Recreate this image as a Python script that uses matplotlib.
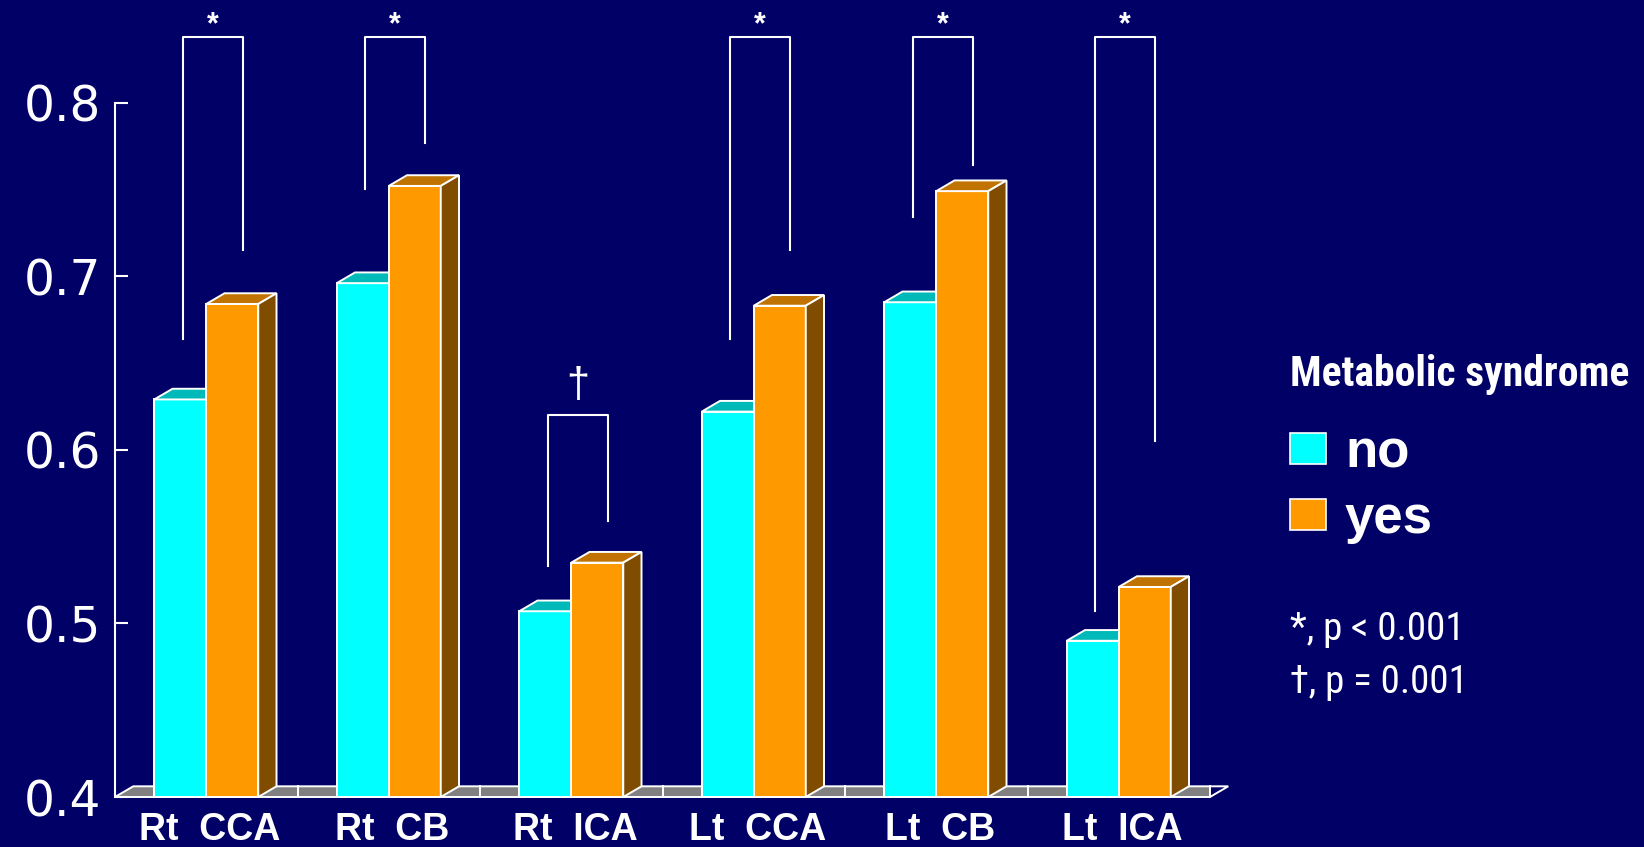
import matplotlib
matplotlib.use('Agg')
import matplotlib.pyplot as plt
from matplotlib.patches import Polygon, Rectangle

# mean values per site, by metabolic syndrome status
sites = ['Rt  CCA', 'Rt  CB', 'Rt  ICA', 'Lt  CCA', 'Lt  CB', 'Lt  ICA']
no_vals = [0.629, 0.696, 0.507, 0.622, 0.685, 0.490]
yes_vals = [0.684, 0.752, 0.535, 0.683, 0.749, 0.521]

# significance brackets: mark, top, bottom of left leg, bottom of right leg
marks = ['*', '*', '\u2020', '*', '*', '*']
br_top = [0.838, 0.838, 0.620, 0.838, 0.838, 0.838]
br_left = [0.664, 0.750, 0.533, 0.664, 0.734, 0.507]
br_right = [0.715, 0.777, 0.559, 0.715, 0.764, 0.605]

yticks = [0.4, 0.5, 0.6, 0.7, 0.8]

W, H = 1644, 847
BG = '#000066'
CYAN, CYAN_TOP = '#00FFFF', '#00B9B9'
ORANGE, ORANGE_TOP, ORANGE_SIDE = '#FF9900', '#C07300', '#7F4C00'
base = 0.4
bw = 0.285          # bar width in category units
off = 0.215         # gap before first bar
ddx, ddy = 0.100, 0.00616   # depth offset of the 3d look

fig = plt.figure(figsize=(W / 100, H / 100), dpi=100, facecolor=BG)
ax = fig.add_axes([115 / W, 0, 1095 / W, 1])
ax.set_facecolor('none')
ax.set_xlim(0, 6)
ax.set_ylim(base - 50 / 1736, base + 797 / 1736)

for s in ['top', 'right', 'bottom']:
    ax.spines[s].set_visible(False)
ax.spines['left'].set_color('white')
ax.spines['left'].set_linewidth(1.5)
ax.spines['left'].set_bounds(0.4, 0.8)
ax.set_xticks([])
ax.set_yticks(yticks)
ax.set_yticklabels(['%.1f' % v for v in yticks], fontsize=35, color='white',
                   family='DejaVu Sans')
ax.tick_params(axis='y', direction='in', length=9.4, width=1.5, color='white', pad=10)

def box(x0, v, front, top, side=None, z=2):
    kw = dict(edgecolor='white', linewidth=1.4, zorder=z, clip_on=False)
    ax.add_patch(Rectangle((x0, base), bw, v - base, facecolor=front, **kw))
    ax.add_patch(Polygon([(x0, v), (x0 + bw, v), (x0 + bw + ddx, v + ddy),
                          (x0 + ddx, v + ddy)], facecolor=top, **kw))
    if side:
        ax.add_patch(Polygon([(x0 + bw, base), (x0 + bw, v), (x0 + bw + ddx, v + ddy),
                              (x0 + bw + ddx, base + ddy)], facecolor=side, **kw))

# floor
ax.add_patch(Polygon([(0, base), (6, base), (6, base + ddy), (ddx, base + ddy)],
                     facecolor='#808080', edgecolor='none', zorder=1, clip_on=False))
ax.add_patch(Polygon([(0, base), (6, base), (6 + ddx, base + ddy), (ddx, base + ddy)],
                     closed=True, fill=False, edgecolor='white', linewidth=1.4,
                     zorder=1, clip_on=False))
for i in range(1, 7):
    ax.plot([i, i], [base, base + ddy], color='white', lw=1.4, zorder=1, clip_on=False)

for i in range(6):
    box(i + off, no_vals[i], CYAN, CYAN_TOP, z=2)
    box(i + off + bw, yes_vals[i], ORANGE, ORANGE_TOP, ORANGE_SIDE, z=3)
    ax.text(i + 0.52, base - 43 / 1736, sites[i], ha='center', va='baseline',
            fontsize=27, fontweight='bold', color='white', family='Liberation Sans')

    # bracket
    xl, xr = i + 0.37, i + 0.70
    ax.plot([xl, xl, xr, xr], [br_left[i], br_top[i], br_top[i], br_right[i]],
            color='white', lw=1.5, zorder=5, clip_on=False)
    if marks[i] == '*':
        ax.text((xl + xr) / 2, br_top[i] + 3 / 1736, '*', ha='center', va='baseline',
                fontsize=22, fontweight='bold', color='white', family='Liberation Sans')
    else:
        ax.text((xl + xr) / 2, br_top[i] + 18 / 1736, marks[i], ha='center', va='baseline',
                fontsize=30, color='white', family='Liberation Sans')

# legend
def fx(x):
    return x / W

def fy(y):
    return 1 - y / H

narrow = ['Roboto Condensed', 'Liberation Sans']
fig.text(fx(1290), fy(386), 'Metabolic syndrome', fontsize=30, fontweight='bold',
         color='white', family=narrow, va='baseline')
for y0, c, lab in [(433, CYAN, 'no'), (499, ORANGE, 'yes')]:
    fig.patches.append(Rectangle((fx(1290), fy(y0 + 31)), 36 / W, 31 / H,
                                 transform=fig.transFigure, facecolor=c,
                                 edgecolor='white', linewidth=1.2))
    fig.text(fx(1345), fy(y0 + 34), lab, fontsize=38, fontweight='bold',
             color='white', family='Liberation Sans', va='baseline')
fig.text(fx(1290), fy(640), '*, p < 0.001', fontsize=28, color='white',
         family=narrow, va='baseline')
fig.text(fx(1290), fy(693), '\u2020, p = 0.001', fontsize=28, color='white',
         family=narrow, va='baseline')

fig.savefig('out.png', dpi=100, facecolor=BG)
